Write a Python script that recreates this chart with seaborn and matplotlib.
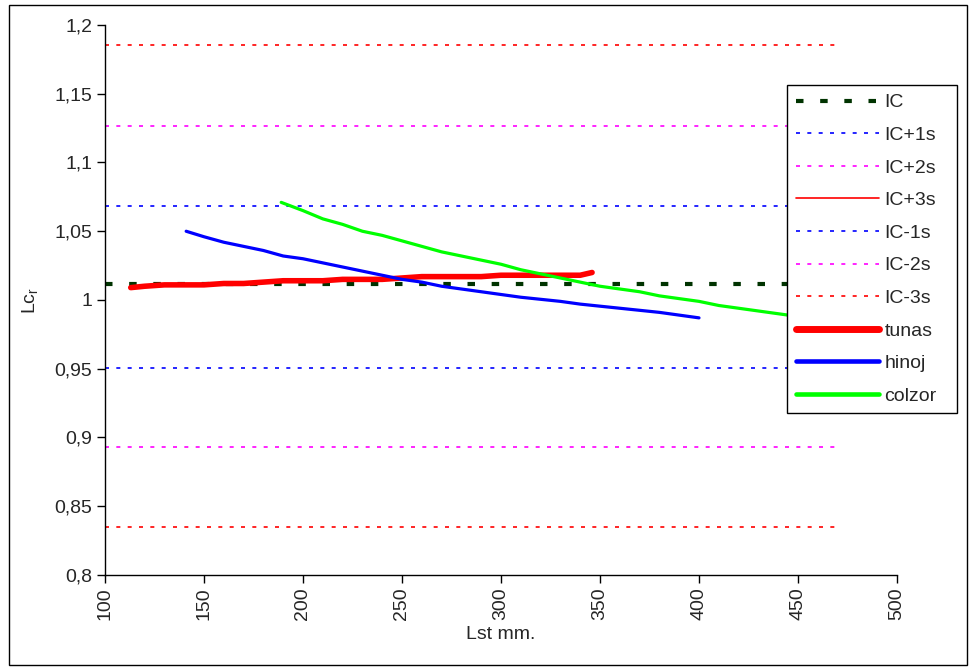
import matplotlib
matplotlib.use("Agg")
import matplotlib.pyplot as plt
from matplotlib.lines import Line2D
from matplotlib.patches import Rectangle
import seaborn as sns
import pandas as pd

# reference bands (IC and IC +/- k*s)
band_names = ["IC", "IC+1s", "IC+2s", "IC+3s", "IC-1s", "IC-2s", "IC-3s"]
band_values = [1.0116, 1.0686, 1.1266, 1.1855, 0.9505, 0.8931, 0.8349]
band_x = [100, 470]

# series
tunas_x = [113, 120, 130, 140, 150, 160, 170, 180, 190, 200, 210, 220, 230, 240, 250,
           260, 270, 280, 290, 300, 310, 320, 330, 340, 346]
tunas_y = [1.009, 1.010, 1.011, 1.011, 1.011, 1.012, 1.012, 1.013, 1.014, 1.014, 1.014,
           1.015, 1.015, 1.015, 1.016, 1.017, 1.017, 1.017, 1.017, 1.018, 1.018, 1.018,
           1.018, 1.018, 1.020]
hinoj_x = [141, 150, 160, 170, 180, 190, 200, 210, 220, 230, 240, 250, 260, 270, 280,
           290, 300, 310, 320, 330, 340, 350, 360, 370, 380, 390, 400]
hinoj_y = [1.050, 1.046, 1.042, 1.039, 1.036, 1.032, 1.030, 1.027, 1.024, 1.021, 1.018,
           1.015, 1.013, 1.010, 1.008, 1.006, 1.004, 1.002, 1.0005, 0.999, 0.997, 0.9955,
           0.994, 0.9925, 0.991, 0.989, 0.987]
colzor_x = [189, 200, 210, 220, 230, 240, 250, 260, 270, 280, 290, 300, 310, 320, 330,
            340, 350, 360, 370, 380, 390, 400, 410, 420, 430, 440, 450, 460]
colzor_y = [1.071, 1.065, 1.059, 1.055, 1.050, 1.047, 1.043, 1.039, 1.035, 1.032, 1.029,
            1.026, 1.022, 1.019, 1.016, 1.013, 1.010, 1.008, 1.006, 1.003, 1.001, 0.999,
            0.996, 0.994, 0.992, 0.990, 0.988, 0.985]

x_ticks = [100, 150, 200, 250, 300, 350, 400, 450, 500]
y_ticks = [0.8, 0.85, 0.9, 0.95, 1.0, 1.05, 1.1, 1.15, 1.2]
y_ticklabels = ["0,8", "0,85", "0,9", "0,95", "1", "1,05", "1,1", "1,15", "1,2"]

sns.set_style("white")
plt.rcParams["font.family"] = ["Liberation Sans", "DejaVu Sans"]
fs = 14

fig = plt.figure(figsize=(9.73, 6.7), dpi=100)
ax = fig.add_axes([0.1079, 0.1418, 0.814, 0.8209])

band_style = {
    "IC": dict(color="#003300", lw=3.0, dashes=(1.8, 4.0)),
    "IC+1s": dict(color="#0000ff", lw=1.2, dashes=(2.4, 4.4)),
    "IC+2s": dict(color="#ff00ff", lw=1.2, dashes=(2.4, 4.4)),
    "IC+3s": dict(color="#ff0000", lw=1.2, dashes=(2.4, 4.4)),
    "IC-1s": dict(color="#0000ff", lw=1.2, dashes=(2.4, 4.4)),
    "IC-2s": dict(color="#ff00ff", lw=1.2, dashes=(2.4, 4.4)),
    "IC-3s": dict(color="#ff0000", lw=1.2, dashes=(2.4, 4.4)),
}

for name, val in zip(band_names, band_values):
    st = band_style[name]
    df = pd.DataFrame({"x": band_x, "y": [val, val]})
    line = sns.lineplot(data=df, x="x", y="y", ax=ax, color=st["color"], lw=st["lw"],
                        zorder=2).lines[-1]
    line.set_dashes(st["dashes"])
    line.set_dash_capstyle("butt")

series = [("tunas", tunas_x, tunas_y, "#ff0000", 4.0),
          ("hinoj", hinoj_x, hinoj_y, "#0000ff", 2.3),
          ("colzor", colzor_x, colzor_y, "#00ff00", 2.3)]
for name, xs, ys, col, lw in series:
    df = pd.DataFrame({"x": xs, "y": ys})
    sns.lineplot(data=df, x="x", y="y", ax=ax, color=col, lw=lw, zorder=3,
                 solid_capstyle="round")

ax.set_xlim(100, 500)
ax.set_ylim(0.8, 1.2)
ax.set_xticks(x_ticks)
ax.set_xticklabels([str(t) for t in x_ticks], rotation=90, fontsize=fs)
ax.set_yticks(y_ticks)
ax.set_yticklabels(y_ticklabels, fontsize=fs)
ax.tick_params(axis="both", direction="out", length=6, width=1, color="black",
               bottom=True, left=True, pad=3)
ax.set_xlabel("Lst mm.", fontsize=fs, labelpad=4)
ax.set_ylabel(r"Lc$_\mathregular{r}$", fontsize=fs, labelpad=10)
for side in ["top", "right"]:
    ax.spines[side].set_visible(False)
for side in ["left", "bottom"]:
    ax.spines[side].set_color("black")
    ax.spines[side].set_linewidth(1)

# legend
handles = []
for name in band_names:
    st = band_style[name]
    if name == "IC+3s":
        h = Line2D([], [], color=st["color"], lw=1.2)
    else:
        h = Line2D([], [], color=st["color"], lw=st["lw"], dashes=st["dashes"],
                   dash_capstyle="butt")
    handles.append(h)
for name, xs, ys, col, lw in series:
    handles.append(Line2D([], [], color=col, lw=lw + 1.0, solid_capstyle="round"))
labels = band_names + [s[0] for s in series]

leg = fig.legend(handles, labels, loc="upper left",
                 bbox_to_anchor=(0.809, 0.3836, 0.1748, 0.4894), mode="expand",
                 frameon=True, fancybox=False, edgecolor="black", facecolor="white",
                 framealpha=1, fontsize=fs, handlelength=4.25, handletextpad=0.3,
                 labelspacing=0.77, borderpad=0.45, borderaxespad=0)
leg.get_frame().set_linewidth(1)
leg.set_zorder(10)

# outer chart border
fig.patches.append(Rectangle((0.009, 0.007), 0.985, 0.986, transform=fig.transFigure,
                             fill=False, edgecolor="black", lw=1))

fig.savefig("out.png", dpi=100)
